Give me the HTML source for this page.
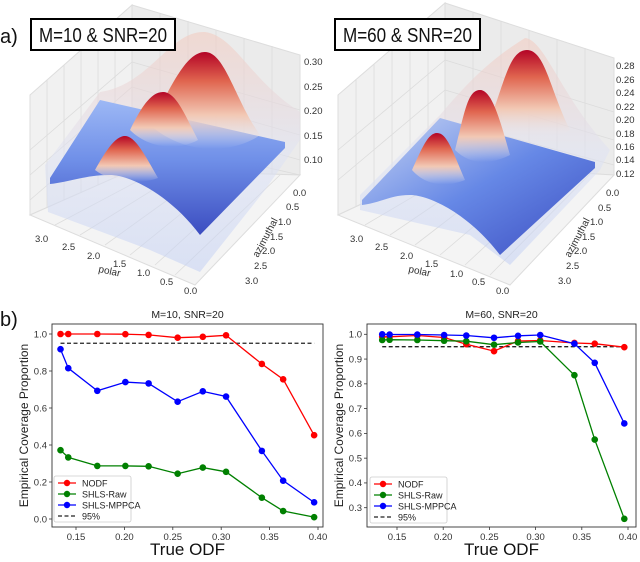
<!DOCTYPE html>
<html><head><meta charset="utf-8">
<style>
html,body{margin:0;padding:0;background:#fff;}
body{width:640px;height:557px;overflow:hidden;font-family:"Liberation Sans",sans-serif;}
svg text{font-family:"Liberation Sans",sans-serif;}
</style></head>
<body>
<svg id="fig" width="640" height="557" viewBox="0 0 640 557" xmlns="http://www.w3.org/2000/svg">
<defs>
  <linearGradient id="blueSurf" x1="0" y1="0" x2="0" y2="1">
    <stop offset="0" stop-color="#9db8f5"/>
    <stop offset="0.45" stop-color="#6f8fe8"/>
    <stop offset="1" stop-color="#3b4cc0"/>
  </linearGradient>
  <linearGradient id="blueSurf2" x1="0" y1="0" x2="1" y2="1">
    <stop offset="0" stop-color="#c9d6f3"/>
    <stop offset="0.5" stop-color="#6688e6"/>
    <stop offset="1" stop-color="#3b4cc0"/>
  </linearGradient>
  <linearGradient id="bump" x1="0" y1="0" x2="0" y2="1">
    <stop offset="0" stop-color="#b40426"/>
    <stop offset="0.3" stop-color="#e0654f"/>
    <stop offset="0.65" stop-color="#f2c8b4"/>
    <stop offset="1" stop-color="#e6ecf8" stop-opacity="0"/>
  </linearGradient>
  <linearGradient id="ghost" x1="0" y1="0" x2="0" y2="1">
    <stop offset="0" stop-color="#f3c9bd"/>
    <stop offset="0.5" stop-color="#dfe3f3"/>
    <stop offset="1" stop-color="#c3d0f3"/>
  </linearGradient>
</defs>

<g>
  <polygon points="30,95 132,5 132,170 30,215" fill="#f1f1f1" stroke="#ddd"/>
  <polygon points="132,5 300,55 300,175 132,170" fill="#ebebeb" stroke="#ddd"/>
  <polygon points="30,215 132,170 300,175 195,285" fill="#f4f4f4" stroke="#ddd"/>
  <g stroke="#dcdcdc" stroke-width="0.8" fill="none">
    <path d="M47,80 V208 M64,65 V200 M81,50 V193 M98,35 V185 M115,20 V178"/>
    <path d="M160,13 V171 M188,21 V172 M216,30 V173 M244,38 V174 M272,46 V174"/>
    <path d="M132,62 L300,110 M132,87 L300,135 M132,112 L300,160 M132,137 L300,175 M30,150 L132,62 M30,175 L132,87 M30,200 L132,112"/>
    <path d="M55,225 L155,172 M80,235 L180,173 M105,245 L205,173 M130,255 L230,174 M155,265 L255,174 M175,275 L280,175"/>
  </g>
  <path d="M45,165 L100,92 C150,85 170,30 205,32 C235,36 250,80 300,112 L300,140 L265,190 L200,272 L150,250 L48,212 Z" fill="url(#ghost)" opacity="0.55"/>
  <path d="M50,178 L100,100 L285,142 L285,148 L200,235 C170,195 130,175 110,175 C85,175 70,182 50,184 Z" fill="url(#blueSurf)"/>
  <path d="M150,125 C170,90 185,52 205,52 C225,52 235,100 260,135 C240,150 190,160 150,125 Z" fill="url(#bump)"/>
  <path d="M130,130 C140,110 150,92 163,92 C176,92 185,115 198,140 C180,150 150,150 130,130 Z" fill="url(#bump)"/>
  <path d="M95,170 C105,152 115,136 125,136 C135,136 145,155 158,178 C140,185 110,182 95,170 Z" fill="url(#bump)"/>
  <g font-size="9.5" fill="#333">
    <text x="304" y="65">0.30</text><text x="304" y="90">0.25</text><text x="304" y="114">0.20</text><text x="304" y="139">0.15</text><text x="304" y="163">0.10</text>
  </g>
  <g font-size="9.5" fill="#333">
    <text x="35" y="242">3.0</text><text x="62" y="250">2.5</text><text x="87" y="259">2.0</text><text x="113" y="267">1.5</text><text x="137" y="276">1.0</text><text x="160" y="285">0.5</text><text x="184" y="294">0.0</text>
  </g>
  <g font-size="9.5" fill="#333">
    <text x="293" y="196">0.0</text><text x="286" y="210">0.5</text><text x="278" y="225">1.0</text><text x="270" y="240">1.5</text><text x="262" y="254">2.0</text><text x="254" y="269">2.5</text><text x="245" y="284">3.0</text>
  </g>
  <text x="98" y="272" font-size="10" fill="#333" transform="rotate(12 98 272)">polar</text>
  <text x="258" y="258" font-size="10" fill="#333" transform="rotate(-62 258 258)">azimuthal</text>
  <rect x="31" y="19" width="144" height="31" fill="#fff" stroke="#000" stroke-width="2"/>
  <text x="39" y="42" font-size="20" textLength="128" lengthAdjust="spacingAndGlyphs" fill="#111">M=10 &amp; SNR=20</text>
  <text x="0" y="43" font-size="20" fill="#111">a)</text>
</g>

<g>
  <polygon points="338,95 445,3 445,165 338,215" fill="#f1f1f1" stroke="#ddd"/>
  <polygon points="445,3 614,58 614,175 445,165" fill="#ebebeb" stroke="#ddd"/>
  <polygon points="338,215 445,165 614,175 510,285" fill="#f4f4f4" stroke="#ddd"/>
  <g stroke="#dcdcdc" stroke-width="0.8" fill="none">
    <path d="M356,80 V207 M374,64 V199 M392,49 V190 M410,33 V182 M428,18 V173"/>
    <path d="M473,12 V167 M501,21 V169 M529,30 V170 M557,39 V172 M585,48 V173"/>
    <path d="M445,60 L614,112 M445,90 L614,140 M445,120 L614,165 M338,150 L445,60 M338,180 L445,90"/>
    <path d="M365,225 L465,166 M390,235 L490,167 M415,245 L515,168 M440,255 L540,170 M465,265 L565,172 M490,275 L590,174"/>
  </g>
  <path d="M360,195 L440,115 C470,80 490,60 525,38 C545,40 560,95 610,150 L600,170 L510,265 L470,235 L360,210 Z" fill="url(#ghost)" opacity="0.55"/>
  <path d="M362,200 L440,118 L595,162 L595,168 L500,255 C470,215 430,195 410,195 C390,195 380,203 362,205 Z" fill="url(#blueSurf2)"/>
  <path d="M490,120 C505,80 510,50 527,50 C545,50 550,90 570,130 C550,145 510,145 490,120 Z" fill="url(#bump)"/>
  <path d="M455,150 C465,110 468,90 480,90 C492,90 500,120 510,155 C490,165 470,165 455,150 Z" fill="url(#bump)"/>
  <path d="M412,170 C422,148 428,133 437,133 C447,133 452,150 465,180 C445,188 425,185 412,170 Z" fill="url(#bump)"/>
  <g font-size="9.5" fill="#333">
    <text x="616" y="69">0.28</text><text x="616" y="83">0.26</text><text x="616" y="96">0.24</text><text x="616" y="110">0.22</text><text x="616" y="123">0.20</text><text x="616" y="137">0.18</text><text x="616" y="150">0.16</text><text x="616" y="163">0.14</text><text x="616" y="177">0.12</text>
  </g>
  <g font-size="9.5" fill="#333">
    <text x="350" y="242">3.0</text><text x="375" y="250">2.5</text><text x="400" y="259">2.0</text><text x="425" y="267">1.5</text><text x="450" y="277">1.0</text><text x="472" y="285">0.5</text><text x="496" y="294">0.0</text>
  </g>
  <g font-size="9.5" fill="#333">
    <text x="606" y="196">0.0</text><text x="598" y="211">0.5</text><text x="590" y="225">1.0</text><text x="582" y="240">1.5</text><text x="574" y="254">2.0</text><text x="566" y="269">2.5</text><text x="558" y="284">3.0</text>
  </g>
  <text x="408" y="272" font-size="10" fill="#333" transform="rotate(12 408 272)">polar</text>
  <text x="570" y="258" font-size="10" fill="#333" transform="rotate(-62 570 258)">azimuthal</text>
  <rect x="335" y="19" width="145" height="31" fill="#fff" stroke="#000" stroke-width="2"/>
  <text x="343" y="42" font-size="20" textLength="129" lengthAdjust="spacingAndGlyphs" fill="#111">M=60 &amp; SNR=20</text>
</g>

<text x="0" y="326" font-size="20" fill="#111">b)</text>
<g id="charts"></g>
</svg>

<script>
const xValues = [0.134,0.142,0.172,0.201,0.225,0.255,0.281,0.305,0.342,0.364,0.396];
const leftNODF = [1.0,1.0,1.0,0.999,0.995,0.98,0.985,0.993,0.838,0.755,0.453];
const leftRaw = [0.372,0.333,0.287,0.287,0.285,0.245,0.278,0.255,0.115,0.043,0.01];
const leftMPPCA = [0.918,0.815,0.693,0.74,0.733,0.634,0.69,0.662,0.368,0.207,0.09];
const rightNODF = [0.99,0.99,0.995,0.987,0.96,0.932,0.973,0.975,0.965,0.962,0.948];
const rightRaw = [0.977,0.978,0.977,0.974,0.972,0.958,0.967,0.971,0.835,0.575,0.255];
const rightMPPCA = [1.0,0.999,0.999,0.997,0.995,0.986,0.994,0.997,0.962,0.885,0.64];
const xTicks = [0.15,0.20,0.25,0.30,0.35,0.40];
const xTickLabels = ["0.15","0.20","0.25","0.30","0.35","0.40"];
const leftYTicks = [0.0,0.2,0.4,0.6,0.8,1.0];
const rightYTicks = [0.3,0.4,0.5,0.6,0.7,0.8,0.9,1.0];
const threshold = 0.95;
const seriesNames = ["NODF","SHLS-Raw","SHLS-MPPCA"];
const seriesColors = ["#ff0000","#008000","#0000ff"];

const NS = "http://www.w3.org/2000/svg";
const root = document.getElementById("charts");
function mk(tag, attrs, parent){
  const e = document.createElementNS(NS, tag);
  for (const k in attrs) e.setAttribute(k, attrs[k]);
  (parent||root).appendChild(e);
  return e;
}

function drawChart(cfg){
  const g = mk("g", {});
  
  
  const xs = v => cfg.x0px + (v - 0.15) / 0.25 * (cfg.x1px - cfg.x0px);
  const ys = v => cfg.y0px + (v - cfg.ylo) / (cfg.yhi - cfg.ylo) * (cfg.y1px - cfg.y0px);
  const frame = mk("rect", {x:cfg.fx, y:cfg.fy, width:cfg.fw, height:cfg.fh, fill:"none", stroke:"#333", "stroke-width":0.9}, g);
  
  
  const fb = cfg.fy + cfg.fh;
  xTicks.forEach((t,i)=>{
    const x = xs(t);
    mk("line",{x1:x,x2:x,y1:fb,y2:fb+3,stroke:"#333","stroke-width":0.8},g);
    const tl = mk("text",{x:x,y:fb+13,"font-size":9.5,"text-anchor":"middle",fill:"#333"},g);
    tl.textContent = xTickLabels[i];
    
    
  });
  cfg.yTicks.forEach(t=>{
    const y = ys(t);
    mk("line",{x1:cfg.fx-3,x2:cfg.fx,y1:y,y2:y,stroke:"#333","stroke-width":0.8},g);
    const tl = mk("text",{x:cfg.fx-5,y:y+3.3,"font-size":9.5,"text-anchor":"end",fill:"#333"},g);
    tl.textContent = t.toFixed(1);
    
    
  });
  const th = mk("line",{x1:xs(xValues[0]),x2:xs(xValues[xValues.length-1]),y1:ys(threshold),y2:ys(threshold),stroke:"#222","stroke-width":1.3,"stroke-dasharray":"4,2.5"},g);
  
  
  cfg.series.forEach((vals,si)=>{
    const pts = vals.map((v,i)=>xs(xValues[i]).toFixed(1)+","+ys(v).toFixed(1)).join(" ");
    const pl = mk("polyline",{points:pts,fill:"none",stroke:seriesColors[si],"stroke-width":1.3},g);
    
    
    vals.forEach((v,i)=>{
      const c = mk("circle",{cx:xs(xValues[i]),cy:ys(v),r:3.3,fill:seriesColors[si]},g);
      
      
    });
  });
  const t = mk("text",{x:cfg.fx+cfg.fw/2,y:cfg.fy-6,"font-size":10.5,"text-anchor":"middle",fill:"#222"},g);
  t.textContent = cfg.title;
  
  
  const xt = mk("text",{x:cfg.fx+cfg.fw/2,y:555,"font-size":17,"text-anchor":"middle",fill:"#111"},g);
  xt.textContent = "True ODF";
  
  
  const yx = cfg.ytx, yy = cfg.fy + cfg.fh/2;
  const yt = mk("text",{x:yx,y:yy,"font-size":12,"text-anchor":"middle",fill:"#222",transform:"rotate(-90 "+yx+" "+yy+")"},g);
  yt.textContent = "Empirical Coverage Proportion";
  
  
  const lg = mk("g",{},g);
  
  
  mk("rect",{x:cfg.lx,y:cfg.ly,width:77,height:46,fill:"#fff",stroke:"#ccc","stroke-width":0.8,rx:2},lg);
  const labels = seriesNames.concat(["95%"]);
  labels.forEach((lab,i)=>{
    const y = cfg.ly + 7 + i*11;
    const e = mk("g",{},lg);
    
    
    if (i < 3) {
      mk("line",{x1:cfg.lx+4,x2:cfg.lx+22,y1:y,y2:y,stroke:seriesColors[i],"stroke-width":1.3},e);
      mk("circle",{cx:cfg.lx+13,cy:y,r:3.2,fill:seriesColors[i]},e);
    } else {
      mk("line",{x1:cfg.lx+4,x2:cfg.lx+22,y1:y,y2:y,stroke:"#222","stroke-width":1.3,"stroke-dasharray":"4,2.5"},e);
    }
    const tx = mk("text",{x:cfg.lx+28,y:y+3.3,"font-size":9,fill:"#222"},e);
    tx.textContent = lab;
  });
}

drawChart({name:"coverage-chart-m10", title:"M=10, SNR=20",
  fx:52, fy:324, fw:271, fh:203, x0px:76, x1px:318,
  ylo:0, yhi:1, y0px:519, y1px:334, yTicks:leftYTicks,
  series:[leftNODF,leftRaw,leftMPPCA], lx:54, ly:476, ytx:28});
drawChart({name:"coverage-chart-m60", title:"M=60, SNR=20",
  fx:367, fy:324, fw:269, fh:203, x0px:397, x1px:628,
  ylo:0.3, yhi:1.0, y0px:507.7, y1px:334.3, yTicks:rightYTicks,
  series:[rightNODF,rightRaw,rightMPPCA], lx:370, ly:477, ytx:343});
</script>
</body></html>
